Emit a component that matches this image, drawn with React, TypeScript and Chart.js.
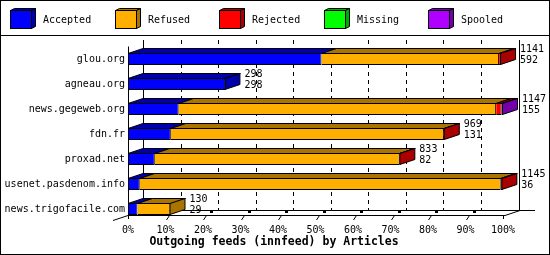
import React, { useEffect, useRef } from "react";
import { Chart, registerables } from "chart.js";

Chart.register(...registerables);

const categories = [
  "glou.org",
  "agneau.org",
  "news.gegeweb.org",
  "fdn.fr",
  "proxad.net",
  "usenet.pasdenom.info",
  "news.trigofacile.com",
];
const seriesNames = ["Accepted", "Refused", "Rejected", "Missing", "Spooled"];
const accepted = [592, 298, 155, 131, 82, 36, 29];
const refused = [543, 0, 971, 836, 749, 1104, 101];
const rejected = [6, 0, 17, 2, 2, 5, 0];
const missing = [0, 0, 0, 0, 0, 0, 0];
const spooled = [0, 0, 4, 0, 0, 0, 0];
const xTicks = [0, 10, 20, 30, 40, 50, 60, 70, 80, 90, 100];
const titleText = "Outgoing feeds (innfeed) by Articles";

const COLORS = ["#0000FF", "#FFAF00", "#FF0000", "#00FF00", "#AF00FF"];
const DARK = ["#0000AA", "#AA7400", "#AA0000", "#00AA00", "#7400AA"];

const DX = 15;
const DY = 5;
const FONT = '"DejaVu Sans Mono", monospace';

const series = [accepted, refused, rejected, missing, spooled];
const totals = categories.map((_, i) => series.reduce((s, a) => s + a[i], 0));
const maxTotal = Math.max(...totals);
const pct = (v: number) => (v / maxTotal) * 100;

function poly(ctx: CanvasRenderingContext2D, pts: number[][], fill: string) {
  ctx.beginPath();
  ctx.moveTo(pts[0][0], pts[0][1]);
  for (let k = 1; k < pts.length; k++) ctx.lineTo(pts[k][0], pts[k][1]);
  ctx.closePath();
  ctx.fillStyle = fill;
  ctx.fill();
  ctx.stroke();
}

function line(ctx: CanvasRenderingContext2D, x1: number, y1: number, x2: number, y2: number) {
  ctx.beginPath();
  ctx.moveTo(x1, y1);
  ctx.lineTo(x2, y2);
  ctx.stroke();
}

const threeD = {
  id: "threeD",
  beforeDraw(chart: any) {
    const ctx = chart.ctx;
    ctx.save();
    ctx.fillStyle = "#fff";
    ctx.fillRect(0, 0, chart.width, chart.height);
    ctx.restore();
  },
  beforeDatasetsDraw(chart: any) {
    const ctx: CanvasRenderingContext2D = chart.ctx;
    const xs = chart.scales.x;
    const ys = chart.scales.y;
    const ca = chart.chartArea;
    const frontFloor = Math.round(ys.getPixelForValue(categories.length - 1) + 6);
    const backFloor = frontFloor - DY;
    const backTop = Math.round(ca.top - 6.5);
    const x0 = Math.round(xs.getPixelForValue(0));
    const x100 = Math.round(xs.getPixelForValue(100));
    ctx.save();
    ctx.strokeStyle = "#000";
    ctx.lineWidth = 1;
    // dashed back gridlines
    ctx.setLineDash([4, 4]);
    for (const v of xTicks) {
      if (v === 0 || v === 100) continue;
      const px = Math.round(xs.getPixelForValue(v)) + DX + 0.5;
      line(ctx, px, backTop, px, backFloor);
    }
    ctx.setLineDash([]);
    // back walls
    line(ctx, x0 + DX + 0.5, backTop, x0 + DX + 0.5, backFloor);
    line(ctx, x100 + DX + 1.5, backTop, x100 + DX + 1.5, backFloor + 0.5);
    // floor
    line(ctx, x0 + DX, backFloor + 0.5, x100 + DX + 17, backFloor + 0.5);
    line(ctx, x0, frontFloor + 0.5, x100 + 2, frontFloor + 0.5);
    line(ctx, x0 - DX, frontFloor + DY + 0.5, x0, frontFloor + 0.5);
    line(ctx, x100 + 2, frontFloor + 0.5, x100 + DX + 2, backFloor + 0.5);
    // ticks
    for (const v of xTicks) {
      const fx = Math.round(xs.getPixelForValue(v));
      if (v === 0 || v === 100) {
        line(ctx, fx + 0.5, frontFloor, fx + 0.5, frontFloor + 4);
        continue;
      }
      line(ctx, fx + 0.5, frontFloor + 5, fx + 3.5, frontFloor + 0.5);
      ctx.fillStyle = "#000";
      ctx.fillRect(fx + 7, backFloor + 1, 3, 2);
      line(ctx, fx + DX + 0.5, backFloor - 2, fx + DX + 0.5, backFloor + 1);
    }
    ctx.restore();
  },
  afterDatasetsDraw(chart: any) {
    const ctx: CanvasRenderingContext2D = chart.ctx;
    const xs = chart.scales.x;
    const ys = chart.scales.y;
    ctx.save();
    ctx.strokeStyle = "#000";
    ctx.lineWidth = 1;
    ctx.lineJoin = "miter";
    const nD = chart.data.datasets.length;
    for (let i = 0; i < categories.length; i++) {
      let last = -1;
      let lastEl: any = null;
      for (let d = 0; d < nD; d++) {
        const el = chart.getDatasetMeta(d).data[i];
        const raw = chart.data.datasets[d].data[i];
        if (!el || raw == null) continue;
        const p = el.getProps(["x", "base", "y", "height"], true);
        const xa = Math.min(p.x, p.base);
        const xb = Math.max(p.x, p.base);
        const yt = p.y - p.height / 2 + 0.5;
        poly(
          ctx,
          [
            [xa, yt],
            [xa + DX, yt - DY],
            [xb + DX, yt - DY],
            [xb, yt],
          ],
          DARK[d]
        );
        last = d;
        lastEl = p;
      }
      if (lastEl) {
        const xb = Math.max(lastEl.x, lastEl.base) - 0.5;
        const yt = lastEl.y - lastEl.height / 2 + 0.5;
        const yb = lastEl.y + lastEl.height / 2 - 0.5;
        poly(
          ctx,
          [
            [xb, yt],
            [xb + DX, yt - DY],
            [xb + DX, yb - DY],
            [xb, yb],
          ],
          DARK[last]
        );
        // value labels
        const endX = xs.getPixelForValue(pct(totals[i])) + DX + 4;
        const cy = lastEl.y;
        ctx.fillStyle = "#000";
        ctx.font = `10px ${FONT}`;
        ctx.textAlign = "left";
        ctx.textBaseline = "middle";
        ctx.fillText(String(totals[i]), endX, cy - 10);
        ctx.fillText(String(accepted[i]), endX, cy + 1);
      }
    }
    // front left axis
    const x0 = Math.round(xs.getPixelForValue(0)) + 0.5;
    const frontFloor = Math.round(ys.getPixelForValue(categories.length - 1) + 6);
    line(ctx, x0, chart.chartArea.top, x0, frontFloor + 4);
    ctx.restore();
  },
  afterDraw(chart: any) {
    const ctx: CanvasRenderingContext2D = chart.ctx;
    const W = chart.width;
    const H = chart.height;
    ctx.save();
    ctx.strokeStyle = "#000";
    ctx.lineWidth = 1;
    // frame
    ctx.strokeRect(0.5, 0.5, W - 1, H - 1);
    line(ctx, 0, 35.5, W, 35.5);
    // legend
    chart.data.datasets.forEach((ds: any, d: number) => {
      const bx = 10 + d * 104.5;
      const by = 10;
      const w = 21;
      const h = 18;
      const L = Math.round(bx) + 0.5;
      const T = by + 0.5;
      poly(ctx, [[L, T], [L + 4, T - 2], [L + w + 4, T - 2], [L + w, T]], DARK[d]);
      poly(ctx, [[L + w, T], [L + w + 4, T - 2], [L + w + 4, T + h - 2], [L + w, T + h]], DARK[d]);
      ctx.fillStyle = COLORS[d];
      ctx.fillRect(L, T, w, h);
      ctx.strokeRect(L, T, w, h);
      ctx.fillStyle = "#000";
      ctx.font = `10px ${FONT}`;
      ctx.textAlign = "left";
      ctx.textBaseline = "middle";
      ctx.fillText(ds.label, Math.round(bx) + 33, 20);
    });
    // title
    ctx.fillStyle = "#000";
    ctx.font = `bold 11.5px ${FONT}`;
    ctx.textAlign = "center";
    ctx.textBaseline = "middle";
    ctx.fillText(titleText, 274, 242);
    ctx.restore();
  },
};

export default function App() {
  const ref = useRef<HTMLCanvasElement | null>(null);
  useEffect(() => {
    if (!ref.current) return;
    const chart = new Chart(ref.current, {
      type: "bar",
      data: {
        labels: categories,
        datasets: series.map((arr, d) => ({
          label: seriesNames[d],
          data: arr.map((v) => (v > 0 ? pct(v) : null)),
          backgroundColor: COLORS[d],
          borderColor: "#000",
          borderWidth: { top: 1, bottom: 1, right: 1, left: 0 },
          borderSkipped: false,
          inflateAmount: 0,
          barThickness: 12,
        })),
      },
      options: {
        responsive: false,
        animation: false,
        devicePixelRatio: 1,
        indexAxis: "y",
        layout: { padding: { top: 46.5, right: 47, bottom: 0, left: 0 } },
        plugins: {
          legend: { display: false },
          title: { display: false },
          tooltip: { enabled: false },
        },
        scales: {
          x: {
            stacked: true,
            min: 0,
            max: 100,
            grid: { display: false, drawTicks: false },
            border: { display: false },
            afterBuildTicks: (s: any) => {
              s.ticks = xTicks.map((v) => ({ value: v }));
            },
            ticks: {
              callback: (v: any) => v + "%",
              font: { family: FONT, size: 10 },
              color: "#000",
              padding: 3,
              maxRotation: 0,
              autoSkip: false,
            },
            afterFit: (s: any) => {
              s.height = 33.5;
            },
          },
          y: {
            stacked: true,
            grid: { display: false, drawTicks: false },
            border: { display: false },
            ticks: {
              font: { family: FONT, size: 10 },
              color: "#000",
              padding: 3,
              autoSkip: false,
            },
            afterFit: (s: any) => {
              s.width = 128;
            },
          },
        },
      } as any,
      plugins: [threeD],
    });
    return () => chart.destroy();
  }, []);
  return (
    <div style={{ position: "fixed", left: 0, top: 0, width: 550, height: 255, background: "#fff" }}>
      <canvas ref={ref} width={550} height={255} style={{ display: "block" }} />
    </div>
  );
}
